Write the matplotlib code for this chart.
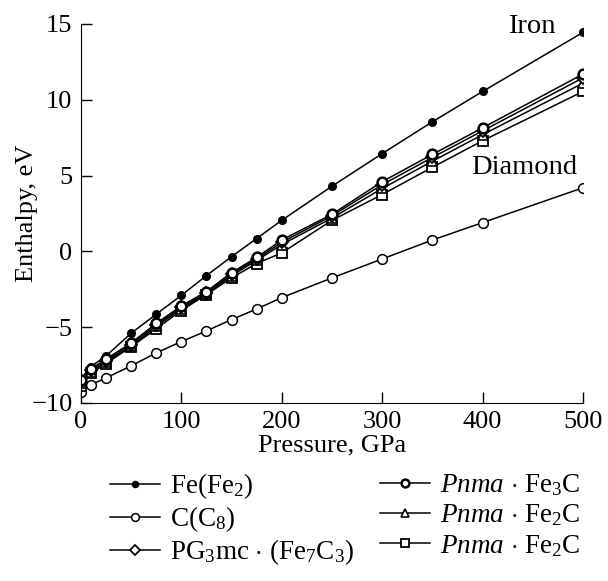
import numpy as np
import matplotlib
matplotlib.use("Agg")
import matplotlib.pyplot as plt

plt.rcParams['font.family'] = ['Liberation Serif', 'DejaVu Serif']
plt.rcParams['mathtext.fontset'] = 'custom'
plt.rcParams['mathtext.rm'] = 'Liberation Serif'
plt.rcParams['mathtext.it'] = 'Liberation Serif:italic'

# pressure points, GPa
pressure = [0, 10, 25, 50, 75, 100, 125, 150, 175, 200, 250, 300, 350, 400, 500]

# enthalpy, eV
iron = [-8.4, -7.6, -6.9, -5.4, -4.15, -2.9, -1.6, -0.35, 0.85, 2.05,
        4.3, 6.45, 8.55, 10.55, 14.45]
diamond = [-9.3, -8.8, -8.35, -7.55, -6.7, -5.95, -5.25, -4.5, -3.8, -3.05,
           -1.75, -0.5, 0.75, 1.9, 4.2]
fe7c3 = [-8.6, -7.85, -7.2, -6.15, -4.85, -3.7, -2.75, -1.5, -0.5, 0.6,
         2.35, 4.4, 6.2, 7.95, 11.45]
fe3c = [-8.5, -7.75, -7.1, -6.05, -4.75, -3.6, -2.65, -1.4, -0.4, 0.75,
        2.45, 4.6, 6.4, 8.15, 11.7]
fe2c_tri = [-8.7, -7.95, -7.3, -6.25, -4.95, -3.8, -2.8, -1.6, -0.6, 0.45,
            2.2, 4.15, 5.95, 7.7, 11.1]
fe2c_sq = [-8.85, -8.05, -7.4, -6.3, -5.1, -3.9, -2.85, -1.75, -0.8, -0.1,
           2.05, 3.75, 5.55, 7.3, 10.55]

labels = [r"Fe(Fe$_2$)",
          r"C(C$_8$)",
          r"PG$_3$mc $\cdot$ (Fe$_7$C$_3$)",
          r"$\it{Pnma}$ $\cdot$ Fe$_3$C",
          r"$\it{Pnma}$ $\cdot$ Fe$_2$C",
          r"$\it{Pnma}$ $\cdot$ Fe$_2$C"]

fig = plt.figure(figsize=(6.08, 5.81), dpi=100)
ax = fig.add_axes([0.133, 0.3064, 0.826, 0.6523])

lw = 1.1
h1, = ax.plot(pressure, iron, '-o', color='black', lw=lw, ms=5.5,
              mfc='black', mec='black', label=labels[0])
h2, = ax.plot(pressure, diamond, '-o', color='black', lw=lw, ms=7,
              mfc='white', mec='black', mew=1.1, label=labels[1])
h6, = ax.plot(pressure, fe2c_sq, '-s', color='black', lw=lw, ms=7.5,
              mfc='white', mec='black', mew=1.3, label=labels[5])
h5, = ax.plot(pressure, fe2c_tri, '-^', color='black', lw=lw, ms=7,
              mfc='white', mec='black', mew=1.2, label=labels[4])
h3, = ax.plot(pressure, fe7c3, '-D', color='black', lw=lw, ms=6,
              mfc='white', mec='black', mew=1.3, label=labels[2])
h4, = ax.plot(pressure, fe3c, '-o', color='black', lw=lw, ms=7,
              mfc='white', mec='black', mew=1.8, label=labels[3])

ax.set_xlim(0, 500)
ax.set_ylim(-10, 15)
ax.set_xticks([0, 100, 200, 300, 400, 500])
ax.set_yticks([-10, -5, 0, 5, 10, 15])
ax.set_yticklabels(['\u221210', '\u22125', '0', '5', '10', '15'])
ax.spines['top'].set_visible(False)
ax.spines['right'].set_visible(False)
ax.tick_params(direction='in', length=8, width=1, labelsize=19, pad=6)
ax.set_xlabel("Pressure, GPa", fontsize=19, labelpad=1)
ax.set_ylabel("Enthalpy, eV", fontsize=19, labelpad=-5)

ax.text(449, 14.4, "Iron", fontsize=20.5, ha='center', va='baseline')
ax.text(441, 5.1, "Diamond", fontsize=20.5, ha='center', va='baseline')

handles = [h1, h2, h3, h4, h5, h6]
leg_kw = dict(ncol=1, frameon=False, fontsize=19.5, loc='upper left',
              handlelength=1.85, handletextpad=0.35,
              borderpad=0, borderaxespad=0, markerscale=0.8)
leg1 = fig.legend(handles[:3], labels[:3], bbox_to_anchor=(0.181, 0.189),
                  labelspacing=0.12, **leg_kw)
leg2 = fig.legend(handles[3:], labels[3:], bbox_to_anchor=(0.625, 0.187),
                  labelspacing=0.16, **leg_kw)

fig.savefig("out.png", dpi=100)
